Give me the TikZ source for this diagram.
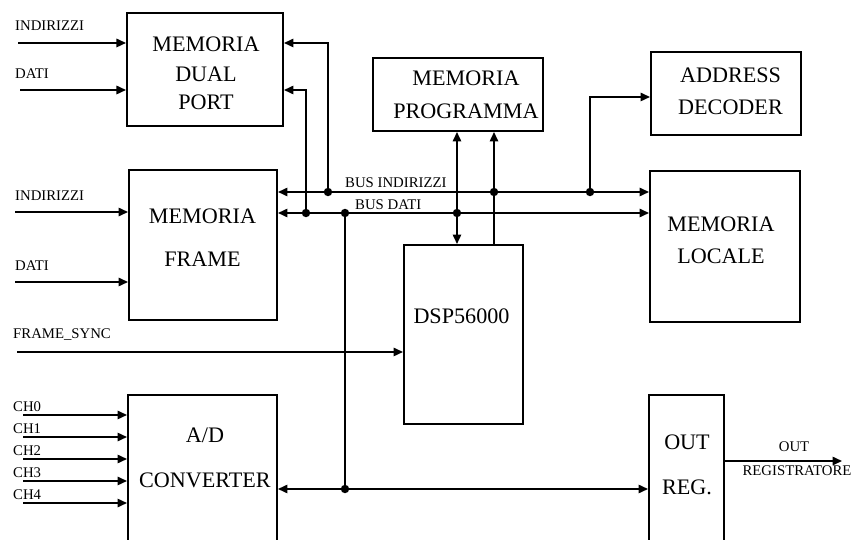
\documentclass[tikz,border=0pt]{standalone}
\usepackage{fontspec}
\setmainfont{Liberation Serif}
\usetikzlibrary{positioning,arrows.meta}
\tikzset{
  blk/.style={draw,line width=1.9pt,rectangle,inner sep=0pt},
  btxt/.style={font=\fontsize{21}{30}\selectfont,align=center,inner sep=0pt},
  stxt/.style={font=\fontsize{14}{16}\selectfont,inner sep=0pt},
  wire/.style={line width=1.6pt},
  arr/.style={wire,-{Triangle[length=9pt,width=8pt]}},
  darr/.style={wire,{Triangle[length=9pt,width=8pt]}-{Triangle[length=9pt,width=8pt]}},
  jdot/.style={circle,fill,inner sep=0pt,minimum size=8pt}
}
\begin{document}
\begin{tikzpicture}
\useasboundingbox (0,0) rectangle (28.567,18);
\node[blk,minimum width=5.2cm,minimum height=3.767cm] (dual) at (6.833,15.683) {};
\node[blk,minimum width=4.933cm,minimum height=5cm] (frame) at (6.767,9.833) {};
\node[blk,minimum width=4.967cm,minimum height=5.5cm] (adc) at (6.75,2.083) {};
\node[blk,minimum width=5.667cm,minimum height=2.433cm] (prog) at (15.267,14.85) {};
\node[blk,minimum width=5cm,minimum height=2.767cm] (addr) at (24.2,14.883) {};
\node[blk,minimum width=5cm,minimum height=5.033cm] (loc) at (24.167,9.783) {};
\node[blk,minimum width=3.967cm,minimum height=5.967cm] (dsp) at (15.45,6.85) {};
\node[blk,minimum width=2.5cm,minimum height=5.5cm] (outreg) at (22.883,2.083) {};

\node[btxt] (dualt) at (6.867,15.567) {MEMORIA\\[-1.5pt]DUAL\\[-3.5pt]PORT};
\node[btxt] (framet) at (6.75,10.067) {MEMORIA\\[10.8pt]FRAME};
\node[btxt] (adct) at (6.833,2.75) {A/D\\[12.7pt]CONVERTER};
\node[btxt] (progt) at (15.533,14.833) {MEMORIA\\[1.3pt]PROGRAMMA};
\node[btxt] (addrt) at (24.35,14.967) {ADDRESS\\DECODER};
\node[btxt] (loct) at (24.033,10.0) {MEMORIA\\LOCALE};
\node[btxt] (dspt) at (15.383,7.467) {DSP56000};
\node[btxt] (outregt) at (22.9,2.517) {OUT\\[12.7pt]REG.};

\coordinate (bi) at (0,11.6); \coordinate (bd) at (0,10.9);
\coordinate (p1) at (0,16.567); \coordinate (p2) at (0,15.0); \coordinate (p3) at (0,14.767);
\draw[darr] (frame.east |- bi) -- (loc.west |- bi);
\draw[darr] (frame.east |- bd) -- (loc.west |- bd);
\node[stxt,anchor=west] (bil) at (11.5,11.9) {BUS INDIRIZZI};
\node[stxt,anchor=west] (bdl) at (11.833,11.167) {BUS DATI};

\node[jdot] (j1) at (10.933,11.6) {}; \node[jdot] (j2) at (16.467,11.6) {}; \node[jdot] (j3) at (19.667,11.6) {};
\node[jdot] (j4) at (10.2,10.9) {}; \node[jdot] (j5) at (11.5,10.9) {}; \node[jdot] (j6) at (15.233,10.9) {};
\node[jdot] (j7) at (11.5,1.7) {};

\draw[arr] (j1) |- (dual.east |- p1);
\draw[arr] (j4) |- (dual.east |- p2);
\draw[arr] (j3) |- (addr.west |- p3);
\draw[darr] (j6 |- prog.south) -- (j6 |- dsp.north);
\draw[arr] (j2 |- dsp.north) -- (j2 |- prog.south);
\draw[wire] (j5) -- (j7);
\draw[darr] (adc.east |- j7) -- (outreg.west |- j7);

\coordinate (ia) at (0.6,16.567); \coordinate (da) at (0.667,15.0);
\coordinate (ib) at (0.5,10.933); \coordinate (db) at (0.5,8.6);
\coordinate (fs) at (0.567,6.267); \coordinate (ot) at (28.067,2.633);
\draw[arr] (ia) -- (ia -| dual.west); \draw[arr] (da) -- (da -| dual.west);
\draw[arr] (ib) -- (ib -| frame.west); \draw[arr] (db) -- (db -| frame.west);
\draw[arr] (fs) -- (fs -| dsp.west);
\draw[arr] (outreg.east |- ot) -- (ot);
\node[stxt,anchor=west] (ial) at (0.5,17.133) {INDIRIZZI};
\node[stxt,anchor=west] (dal) at (0.5,15.533) {DATI};
\node[stxt,anchor=west] (ibl) at (0.5,11.467) {INDIRIZZI};
\node[stxt,anchor=west] (dbl) at (0.5,9.133) {DATI};
\node[stxt,anchor=west] (fsl) at (0.433,6.833) {FRAME\_SYNC};
\foreach \y [count=\i from 0] in {4.167,3.433,2.7,1.967,1.233}{
  \coordinate (ch\i) at (0.767,\y);
  \draw[arr] (ch\i) -- (ch\i -| adc.west);
  \node[stxt,anchor=west] (chl\i) at (0.433,\y+0.27) {CH\i};
}
\node[stxt] (otl) at (26.467,3.1) {OUT};
\node[stxt] (rgl) at (26.567,2.3) {REGISTRATORE};
\end{tikzpicture}
\end{document}
